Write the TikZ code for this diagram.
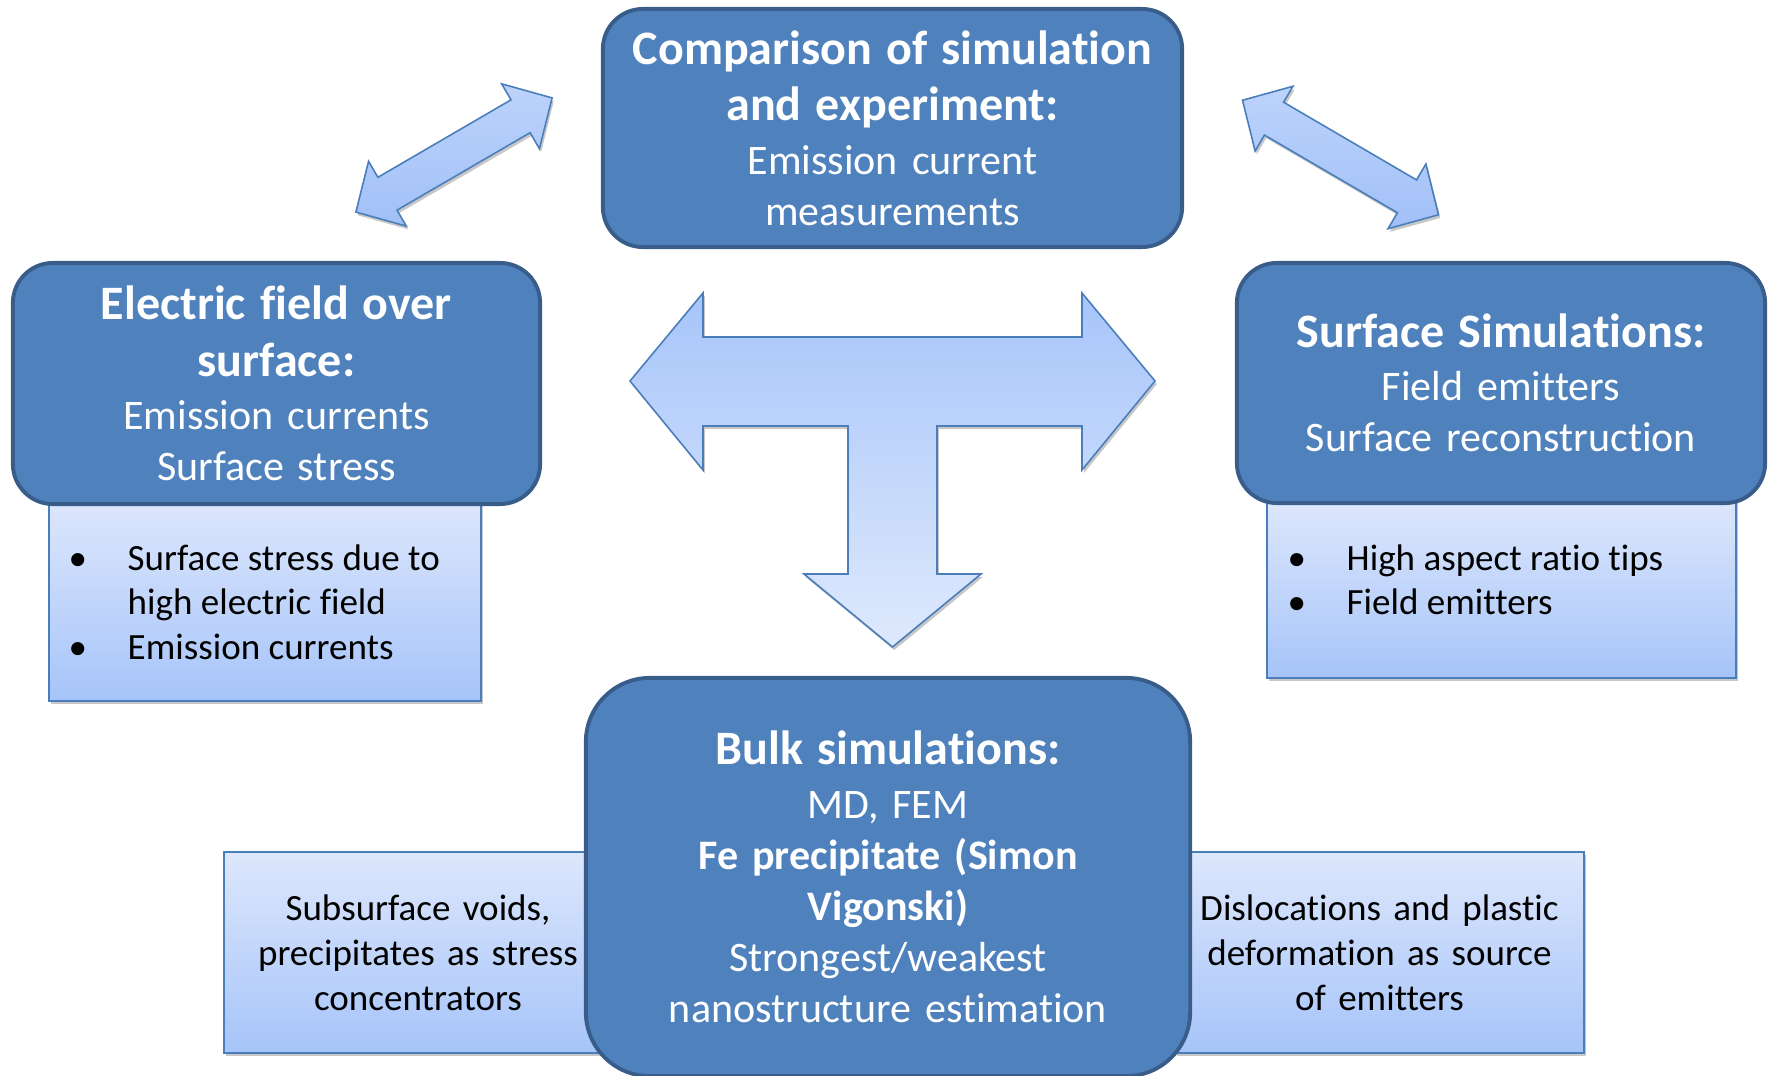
\documentclass[tikz,border=0pt]{standalone}
\usepackage{fontspec}
\setmainfont{Carlito}[Ligatures=NoCommon]
\usetikzlibrary{shadows}
\setlength{\parindent}{0pt}

\definecolor{boxblue}{HTML}{4F81BD}
\definecolor{boxedge}{HTML}{385D8A}
\definecolor{lightedge}{HTML}{4A7EBB}
\definecolor{notetop}{HTML}{DDE7FC}
\definecolor{notebottom}{HTML}{A6C4F9}
\definecolor{arrowdark}{HTML}{A7C5FA}
\definecolor{arrowlight}{HTML}{DFE9FC}
\definecolor{diaglight}{HTML}{BCD3FB}
\definecolor{diagdark}{HTML}{A2C0F7}

\newcommand{\boxheadfont}{\fontsize{13.66}{16}\selectfont\bfseries}
\newcommand{\boxbodyfont}{\fontsize{11.95}{14.5}\selectfont}
\newcommand{\notesfont}{\fontsize{10.53}{12.75}\selectfont}
\newcommand{\headgap}{\vspace{0.7pt}}

\tikzset{
    topicbox/.style={draw=boxedge, line width=1.1pt, fill=boxblue, rounded corners=0.4cm,
        text=white, align=center, font=\boxbodyfont, inner sep=0pt},
    notebox/.style={draw=lightedge, line width=0.55pt, top color=notetop, bottom color=notebottom,
        drop shadow={shadow xshift=0.5pt, shadow yshift=-0.9pt, opacity=0.22, fill=black},
        inner sep=0pt, font=\notesfont, text=black},
    notelist/.style={font=\notesfont, text=black, inner sep=0pt, anchor=base west},
    blockarrow/.style={draw=lightedge, line width=0.45pt,
        drop shadow={shadow xshift=0.5pt, shadow yshift=-0.9pt, opacity=0.22, fill=black}},
}

\begin{document}
\begin{tikzpicture}[x=0.01cm, y=-0.01cm]
    \useasboundingbox (0,0) rectangle (1772,1076);

    \node[notebox, minimum width=4.32cm, minimum height=2.01cm] (efnotes) at (265,600) {};
    \node[notebox, minimum width=4.69cm, minimum height=1.78cm] (ssnotes) at (1501.5,589) {};
    \node[notebox, minimum width=3.88cm, minimum height=2.01cm, text width=3.7cm, align=center]
        (voids) at (418,952.5) {Subsurface voids,\\precipitates as stress\\concentrators};
    \node[notebox, minimum width=4.09cm, minimum height=2.01cm, text width=3.9cm, align=center]
        (disloc) at (1379.5,952.5) {Dislocations and plastic\\deformation as source\\of emitters};

    \node[notelist] (eflist) at (68,570) {\begin{tabular}[t]{@{}p{0.59cm}@{}l@{}}
        \textbullet & Surface stress due to\\
                    & high electric field\\
        \textbullet & Emission currents
    \end{tabular}};
    \node[notelist] (sslist) at (1287,570) {\begin{tabular}[t]{@{}p{0.59cm}@{}l@{}}
        \textbullet & High aspect ratio tips\\
        \textbullet & Field emitters
    \end{tabular}};

    \node[topicbox, minimum width=5.79cm, minimum height=2.38cm, text width=5.5cm]
        (compare) at (892.5,128)
        {{\boxheadfont Comparison of simulation\\and experiment:\par}\headgap Emission current\\measurements};
    \node[topicbox, minimum width=5.27cm, minimum height=2.41cm, text width=5.0cm]
        (efield) at (276.5,383.5)
        {{\boxheadfont Electric field over\\surface:\par}\headgap Emission currents\\Surface stress};
    \node[topicbox, minimum width=5.28cm, minimum height=2.40cm, text width=5.0cm]
        (surfsim) at (1501,383)
        {{\boxheadfont Surface Simulations:\par}\headgap Field emitters\\Surface reconstruction};
    \node[topicbox, rounded corners=0.64cm, minimum width=6.04cm, minimum height=3.98cm, text width=5.7cm]
        (bulk) at (888,877)
        {{\boxheadfont Bulk simulations:\par}\headgap MD, FEM\\{\bfseries Fe precipitate (Simon\\Vigonski)}\\Strongest/weakest\\nanostructure estimation};

    \draw[blockarrow, top color=arrowdark, bottom color=arrowlight]
        (630,381) -- (703,293) -- (703,337) -- (1082,337) -- (1082,293) -- (1155,381)
        -- (1082,470) -- (1082,426) -- (937,426) -- (937,574) -- (981,574) -- (892.5,647)
        -- (804,574) -- (848,574) -- (848,426) -- (703,426) -- (703,470) -- cycle;

    \foreach \cx/\cy/\ang in {454/155/30.2, 1340.5/157.5/-30.3}
        \draw[blockarrow, top color=diaglight, bottom color=diagdark, shift={(\cx,\cy)}, rotate=\ang]
            (-113.5,0) -- (-77,-37.5) -- (-77,-19) -- (77,-19) -- (77,-37.5) -- (113.5,0)
            -- (77,37.5) -- (77,19) -- (-77,19) -- (-77,37.5) -- cycle;
\end{tikzpicture}
\end{document}
